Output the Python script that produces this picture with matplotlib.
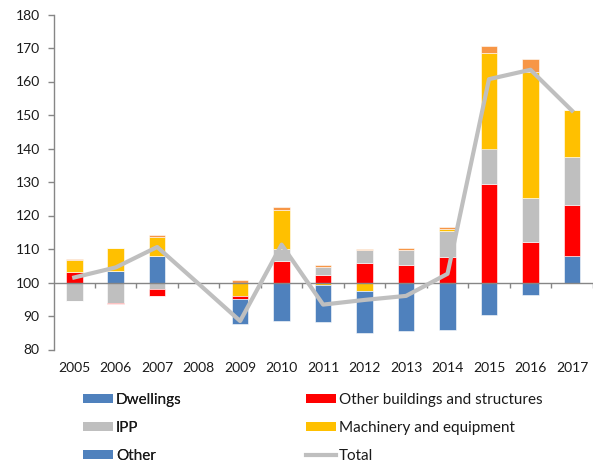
import numpy as np
import matplotlib
matplotlib.use("Agg")
import matplotlib.pyplot as plt
from matplotlib.patches import Patch
from matplotlib.lines import Line2D

plt.rcParams['font.family'] = ['Lato', 'DejaVu Sans']

years = ['2005', '2006', '2007', '2008', '2009', '2010', '2011',
         '2012', '2013', '2014', '2015', '2016', '2017']
dwellings       = [0.0, 3.5, 7.8, 0.0, -7.5, -11.4, -11.0, -12.7, -14.4, -14.1, -9.8, -3.7, 7.8]
other_buildings = [3.2, -0.5, -2.1, 0.0, -1.0, 6.5, 2.2, 5.7, 5.3, 7.5, 29.3, 12.2, 15.2]
ipp             = [-5.5, -6.0, -2.0, 0.0, 0.0, 3.4, 2.3, 3.9, 4.3, 8.0, 10.7, 12.9, 14.6]
machinery       = [3.4, 6.8, 5.9, 0.0, -3.9, 11.8, -0.7, -2.4, 0.0, 0.4, 28.4, 37.8, 13.9]
other           = [0.3, 0.0, 0.4, 0.0, 0.8, 0.7, 0.6, 0.4, 0.7, 0.7, 2.1, 3.7, 0.0]
total           = [101.5, 104.5, 110.6, 99.6, 88.5, 111.3, 93.4, 94.8, 96.0, 102.6, 160.7, 163.5, 151.3]

base = 100
series = [
    ("Dwellings", dwellings, "#4f81bd"),
    ("Other buildings and structures", other_buildings, "#ff0000"),
    ("IPP", ipp, "#bfbfbf"),
    ("Machinery and equipment", machinery, "#ffc000"),
    ("Other", other, "#f79646"),
]

fig = plt.figure(figsize=(6.02, 4.63), dpi=100)
ax = fig.add_axes([53.5 / 602, 1 - 349.5 / 463, (592.7 - 53.5) / 602, (349.5 - 14.5) / 463])

x = np.arange(len(years))
width = 0.4

# positives stack upward in series order
pos_bottom = np.full(len(years), float(base))
for name, vals, col in series:
    v = np.array(vals, dtype=float)
    p = np.where(v > 0, v, 0.0)
    ax.bar(x, p, width, bottom=pos_bottom, color=col, edgecolor='white', linewidth=0.4, zorder=2)
    pos_bottom += p

# negatives stack downward in reverse series order
neg_top = np.full(len(years), float(base))
for name, vals, col in reversed(series):
    v = np.array(vals, dtype=float)
    n = np.where(v < 0, v, 0.0)
    ax.bar(x, n, width, bottom=neg_top, color=col, edgecolor='white', linewidth=0.4, zorder=2)
    neg_top += n

ax.plot(x, total, color="#bfbfbf", linewidth=3.0, zorder=4, solid_joinstyle='round')

ax.set_xlim(-0.5, len(years) - 0.5)
ax.set_ylim(80, 180)
ax.set_yticks(np.arange(80, 181, 10))

# category axis drawn at 100
axis_col = "#868686"
ax.axhline(base, color=axis_col, linewidth=1.0, zorder=3)
bounds = np.arange(-0.5, len(years), 1.0)
ax.vlines(bounds, base - 1.5, base, color=axis_col, linewidth=1.0, zorder=3)

for s in ['top', 'right', 'bottom']:
    ax.spines[s].set_visible(False)
ax.spines['left'].set_color(axis_col)
ax.spines['left'].set_linewidth(1.0)

ax.set_xticks(x)
ax.set_xticklabels(years)
ax.tick_params(axis='x', length=0, pad=9, labelsize=10, labelcolor='#1a1a1a')
ax.tick_params(axis='y', length=4, width=1, color=axis_col, pad=6, labelsize=10, labelcolor='#1a1a1a')

# legend (the "Other" swatch appears blue in the reference)
h1 = [Patch(facecolor="#4f81bd", label="Dwellings"),
      Patch(facecolor="#bfbfbf", label="IPP"),
      Patch(facecolor="#4f81bd", label="Other")]
h2 = [Patch(facecolor="#ff0000", label="Other buildings and structures"),
      Patch(facecolor="#ffc000", label="Machinery and equipment"),
      Line2D([0], [0], color="#bfbfbf", linewidth=3.0, label="Total")]

common = dict(loc='upper left', frameon=False, borderpad=0, borderaxespad=0,
              handlelength=1.95, handleheight=0.55, handletextpad=0.2,
              labelspacing=0.92, fontsize=11, labelcolor='#1a1a1a')
leg1 = fig.legend(handles=h1, bbox_to_anchor=(83 / 602, 1 - 393 / 463), **common)
fig.add_artist(leg1)
leg2 = fig.legend(handles=h2, bbox_to_anchor=(306 / 602, 1 - 393 / 463), **common)

fig.savefig("out.png", dpi=100)
